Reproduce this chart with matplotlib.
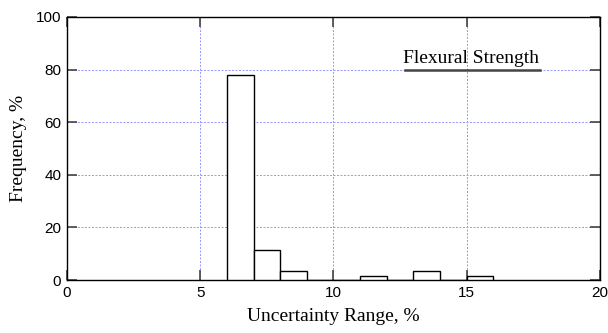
import matplotlib.pyplot as plt

# histogram of uncertainty range (bin left edges, % frequency)
bin_left = [6, 7, 8, 9, 10, 11, 12, 13, 14, 15]
freq = [78.0, 11.4, 3.4, 0, 0, 1.7, 0, 3.4, 0, 1.7]
legend_label = "Flexural Strength"

serif = ["Liberation Serif", "DejaVu Serif"]
sans = ["Liberation Sans", "DejaVu Sans"]

fig = plt.figure(figsize=(6.08, 3.33), dpi=100)
ax = fig.add_axes([0.110, 0.159, 0.877, 0.790])

ax.bar(bin_left, freq, width=1, align="edge", facecolor="white",
       edgecolor="black", linewidth=1.0, zorder=3)

ax.set_xlim(0, 20)
ax.set_ylim(0, 100)
ax.set_xticks([0, 5, 10, 15, 20])
ax.set_yticks([0, 20, 40, 60, 80, 100])
# fine blue dotted grid
ax.grid(True, color="#9a9aff", linestyle=(0, (2, 1.5)), linewidth=0.72, zorder=0)
ax.tick_params(direction="in", length=7.5, width=1.2, top=True, right=True,
               labelsize=11, pad=4, color="#444444")
for lbl in ax.get_xticklabels() + ax.get_yticklabels():
    lbl.set_family(sans)
for s in ax.spines.values():
    s.set_linewidth(1.0)

ax.set_xlabel("Uncertainty Range, %", fontsize=14, family=serif, labelpad=6)
ax.set_ylabel("Frequency, %", fontsize=14, family=serif, labelpad=6)

# legend-style label with a line underneath
ax.text(0.758, 0.825, legend_label, transform=ax.transAxes, ha="center",
        va="baseline", fontsize=14, family=serif)
ax.plot([0.634, 0.888], [0.798, 0.798], transform=ax.transAxes,
        color="#444444", linewidth=1.8, zorder=4)

fig.savefig("out.png", dpi=100)
